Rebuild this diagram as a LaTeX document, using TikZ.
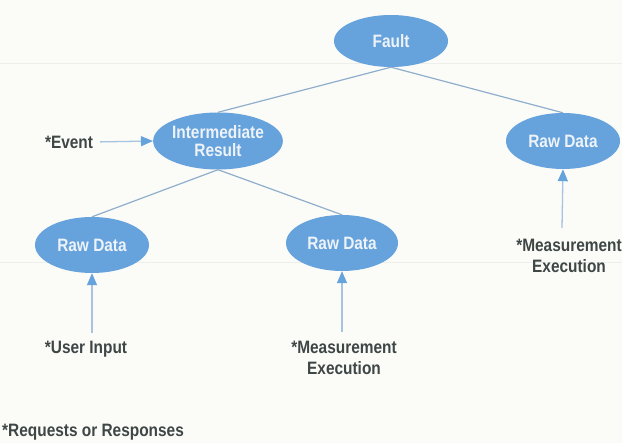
\documentclass[tikz,border=0pt]{standalone}
\usepackage{fontspec}
\setmainfont{Liberation Sans}[FakeStretch=0.86]
\usetikzlibrary{shapes.geometric,arrows.meta}
\definecolor{bg}{HTML}{FBFCF8}
\definecolor{nodeblue}{HTML}{66A2DC}
\definecolor{nodetext}{HTML}{EEF3F9}
\definecolor{edgecol}{HTML}{8FAECB}
\definecolor{arrowline}{HTML}{A6C3E0}
\definecolor{labeltext}{HTML}{3E4646}
\definecolor{scanline}{HTML}{ECEFEA}
\tikzset{
  x=1bp, y=1bp,
  bubble/.style={ellipse, fill=nodeblue, draw=none, inner sep=0pt,
    text=nodetext, font=\fontsize{18}{19}\selectfont\bfseries, align=center},
  lbl/.style={text=labeltext, inner sep=0pt, align=center,
    font=\fontsize{18}{21}\selectfont\bfseries},
  edge/.style={draw=edgecol, line width=1.2pt},
  req/.style={draw=arrowline, line width=1.3pt,
    -{Triangle[width=10bp,length=12bp,color=nodeblue]}},
}
\begin{document}
\begin{tikzpicture}
\fill[bg] (0,0) rectangle (622,-443);
\useasboundingbox (0,0) rectangle (622,-443);
\draw[scanline, line width=1pt] (0,-64) -- (622,-64);
\draw[scanline, line width=1pt] (0,-262) -- (622,-262);

\node[bubble, minimum width=114bp, minimum height=52bp] (fault) at (391,-41) {Fault};
\node[bubble, minimum width=116bp, minimum height=57bp] (ir) at (218,-141) {Intermediate\\[-1pt]Result};
\node[bubble, minimum width=114bp, minimum height=56bp] (rdR) at (563,-141) {Raw Data};
\node[bubble, minimum width=114bp, minimum height=56bp] (rdL) at (92,-245) {Raw Data};
\node[bubble, minimum width=112bp, minimum height=56bp] (rdM) at (342,-243) {Raw Data};

\draw[edge] (fault.south) -- (ir.north);
\draw[edge] (fault.south) -- (rdR.north);
\draw[edge] (ir.south) -- (rdL.north);
\draw[edge] (ir.south) -- (rdM.north);

\node[lbl] (ev) at (69,-142) {*Event};
\draw[req, shorten <=7bp] (ev.east) -- (ir.west);

\node[lbl] (ui) at (86,-349) {*User Input};
\coordinate (uiTop) at (92,-333);
\draw[req] (uiTop) -- (rdL.south);

\node[lbl, anchor=north] (meM) at (344,-341) {*Measurement\\Execution};
\coordinate (meMTop) at (342,-332);
\draw[req] (meMTop) -- (rdM.south);

\node[lbl, anchor=north] (meR) at (569,-239) {*Measurement\\Execution};
\coordinate (meRTop) at (562,-228);
\draw[req] (meRTop) -- (rdR.south);

\node[lbl, anchor=west] (rr) at (2,-432) {*Requests or Responses};
\end{tikzpicture}
\end{document}
